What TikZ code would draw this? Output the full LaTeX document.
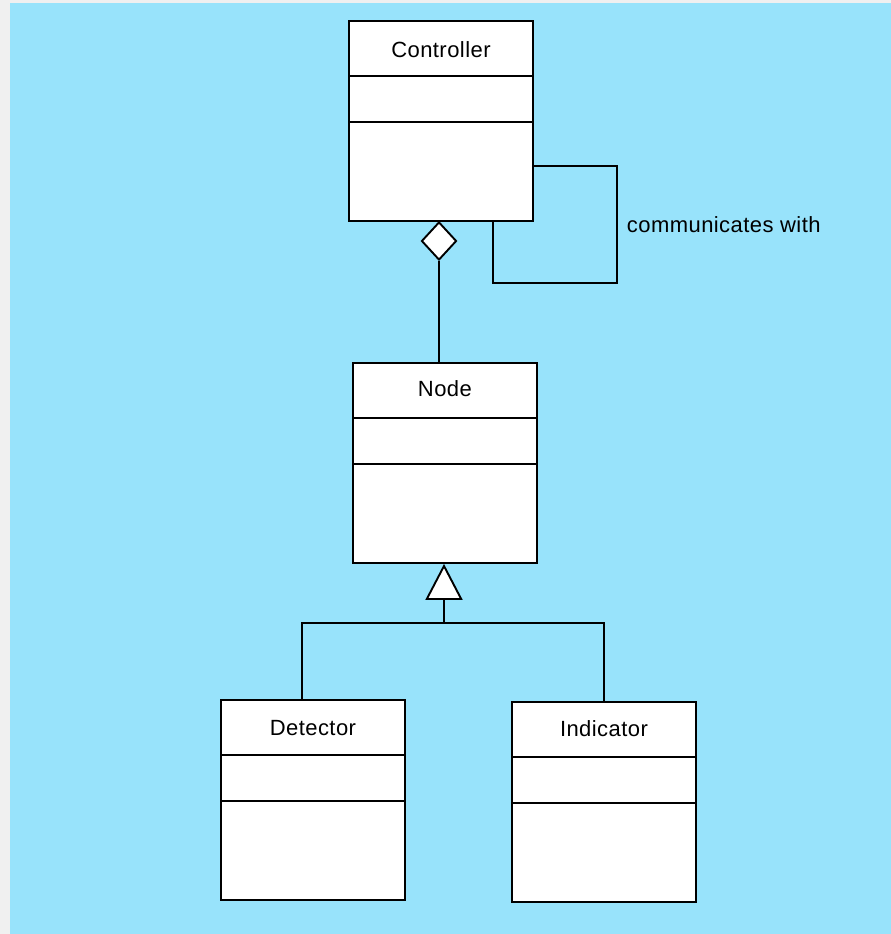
\documentclass[tikz,border=0pt]{standalone}
\usepackage{fontspec}
\setmainfont{Liberation Sans}[LetterSpace=2]
\usetikzlibrary{shapes.geometric,arrows.meta,calc}
\definecolor{bgblue}{RGB}{152,227,251}
\definecolor{bggrey}{RGB}{240,240,240}
\tikzset{
  uml/.style={line width=1.9pt, draw=black},
  classbox/.style={uml, fill=white, rectangle, minimum width=184pt, minimum height=200pt, inner sep=0pt, anchor=north west},
  title/.style={font=\fontsize{22}{26}\selectfont, inner sep=0pt},
  aggr/.style={uml, diamond, fill=white, minimum width=35pt, minimum height=38pt, inner sep=0pt},
  lbl/.style={font=\fontsize{22}{26}\selectfont, inner sep=0pt, anchor=west, xshift=9pt},
  gen/.style={uml, -{Triangle[length=36pt 0 0, width=37pt 0 0, fill=white, line join=miter]}}
}
\newcommand\umlclass[5]{%
  \node[classbox] (#1) at (#2,#3) {};
  \draw[uml] ($(#1.north west)+(0,56)$) -- ($(#1.north east)+(0,56)$);
  \draw[uml] ($(#1.north west)+(0,102)$) -- ($(#1.north east)+(0,102)$);
  \node[title] (#1-t) at ($(#1.north)+(0,#5)$) {#4};
}
\begin{document}
\begin{tikzpicture}[x=1pt,y=-1pt]
\useasboundingbox (0,0) rectangle (891,934);
\fill[bggrey] (0,0) rectangle (891,934);
\fill[bgblue] (10,3) rectangle (891,934);

\umlclass{ctrl}{348}{20}{Controller}{30}
\umlclass{nd}{352}{362}{Node}{27}
\umlclass{det}{220}{699}{Detector}{29}
\umlclass{ind}{511}{701}{Indicator}{28}

% aggregation
\node[aggr] (dia) at (439,241) {};
\draw[uml] (dia.south) -- (dia.south |- nd.north);

% self association
\coordinate (l1) at (617,166);
\coordinate (l2) at (617,283);
\coordinate (l3) at (493,283);
\draw[uml, line join=miter] (ctrl.east |- l1) -- (l1) -- node[lbl] (comm) {communicates with} (l2) -- (l3) -- (l3 |- ctrl.south);

% generalization
\coordinate (j) at (444,623);
\coordinate (jl) at (302,623);
\coordinate (jr) at (604,623);
\draw[gen] (j) -- (j |- nd.south);
\draw[uml, line join=miter] (jl |- det.north) -- (jl) -- (jr) -- (jr |- ind.north);
\end{tikzpicture}
\end{document}
